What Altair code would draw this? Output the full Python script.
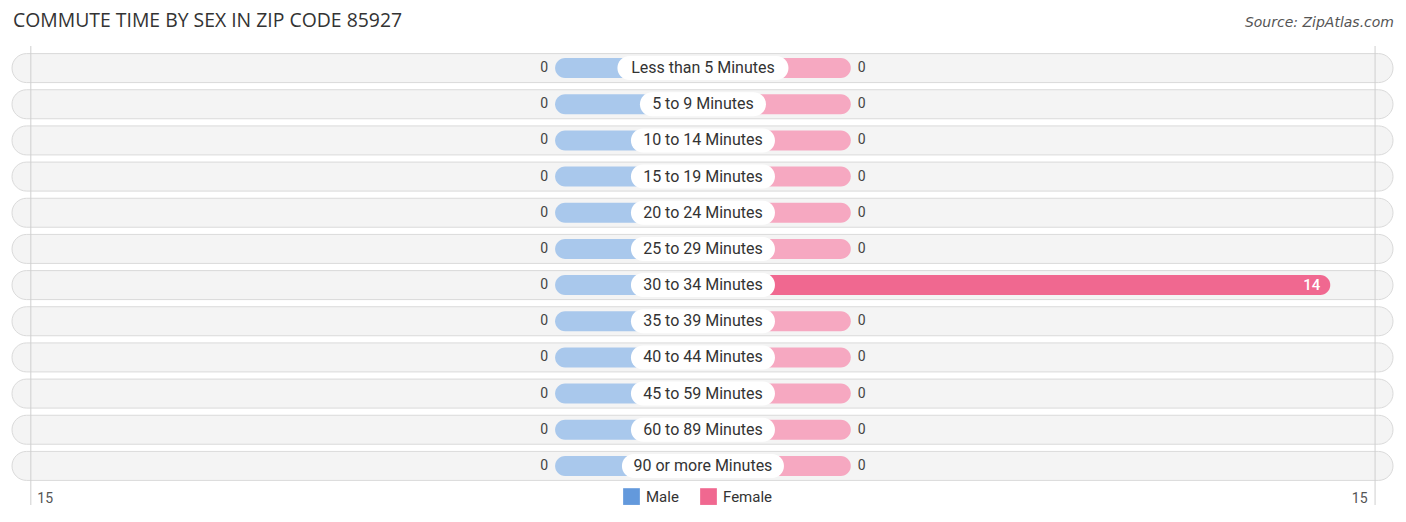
import altair as alt
import pandas as pd

title_text = "COMMUTE TIME BY SEX IN ZIP CODE 85927"
source_text = "Source: ZipAtlas.com"
categories = [
    "Less than 5 Minutes", "5 to 9 Minutes", "10 to 14 Minutes", "15 to 19 Minutes",
    "20 to 24 Minutes", "25 to 29 Minutes", "30 to 34 Minutes", "35 to 39 Minutes",
    "40 to 44 Minutes", "45 to 59 Minutes", "60 to 89 Minutes", "90 or more Minutes",
]
male = [0, 0, 0, 0, 0, 0, 0, 0, 0, 0, 0, 0]
female = [0, 0, 0, 0, 0, 0, 14, 0, 0, 0, 0, 0]
series = ["Male", "Female"]
axis_max = 15

STUB = 3.3          # display length of a zero bar (in axis units)
PX_PER_UNIT = 1344 / 30
W, H = 1381, 434
X_LO, X_HI = -15.42, 15.4

rows = []
for c, m, f in zip(categories, male, female):
    rows.append({"cat": c, "sex": "Male", "value": m,
                 "start": 0, "end": -max(m, STUB),
                 "shade": "Male-full" if m > 0 else "Male-stub",
                 "inside": m >= 5})
    rows.append({"cat": c, "sex": "Female", "value": f,
                 "start": 0, "end": max(f, STUB),
                 "shade": "Female-full" if f > 0 else "Female-stub",
                 "inside": f >= 5})
long_df = pd.DataFrame(rows)

cat_df = pd.DataFrame({"cat": categories})
cat_df["half"] = cat_df["cat"].str.len() * 4.5 / PX_PER_UNIT
cat_df["lo"] = -cat_df["half"]
cat_df["hi"] = cat_df["half"]
cat_df["mid"] = 0.0
cat_df["bg_lo"] = X_LO
cat_df["bg_hi"] = X_HI

xscale = alt.Scale(domain=[X_LO, X_HI], nice=False, zero=False)
yscale = alt.Scale(domain=categories, paddingInner=0, paddingOuter=0)
Y = alt.Y("cat:N", scale=yscale, axis=None, sort=categories)

bg = alt.Chart(cat_df).mark_bar(
    size=29, cornerRadius=14.5, color="#f4f4f4", stroke="#dadada", strokeWidth=1
).encode(
    x=alt.X("bg_lo:Q", scale=xscale, axis=alt.Axis(
        values=[-axis_max, axis_max], labelExpr="abs(datum.value)", title=None,
        domain=False, ticks=False, grid=False, labelFontSize=14, labelColor="#555",
        labelFont="Roboto", labelPadding=7,
        labelAlign={"condition": {"test": "datum.value < 0", "value": "left"}, "value": "right"},
        labelOffset={"condition": {"test": "datum.value < 0", "value": 6}, "value": -8},
    )),
    x2="bg_hi:Q",
    y=Y,
)

grid_df = pd.DataFrame({"g": [-axis_max, axis_max]})
grid = alt.Chart(grid_df).mark_rule(color="#cfcfcf", strokeWidth=1).encode(
    x=alt.X("g:Q", scale=xscale),
    y=alt.value(-4),
    y2=alt.value(H + 21),
)

bars = alt.Chart(long_df).mark_bar(size=20, cornerRadius=10).encode(
    x=alt.X("end:Q", scale=xscale),
    x2="start:Q",
    y=Y,
    color=alt.Color("shade:N", legend=None, scale=alt.Scale(
        domain=["Male-stub", "Male-full", "Female-stub", "Female-full"],
        range=["#a9c8ec", "#6399dc", "#f6a8c1", "#f06890"],
    )),
)

pills = alt.Chart(cat_df).mark_bar(
    size=24, cornerRadius=12, color="white"
).encode(
    x=alt.X("lo:Q", scale=xscale), x2="hi:Q", y=Y,
)

pill_text = alt.Chart(cat_df).mark_text(
    font="Roboto", fontSize=16, color="#333"
).encode(
    x=alt.X("mid:Q", scale=xscale), y=Y, text="cat:N",
)

male_out = alt.Chart(long_df).transform_filter(
    "datum.sex == 'Male' && !datum.inside"
).mark_text(align="right", dx=-7, font="Roboto", fontSize=14, color="#444").encode(
    x=alt.X("end:Q", scale=xscale), y=Y, text="value:Q")

female_out = alt.Chart(long_df).transform_filter(
    "datum.sex == 'Female' && !datum.inside"
).mark_text(align="left", dx=7, font="Roboto", fontSize=14, color="#444").encode(
    x=alt.X("end:Q", scale=xscale), y=Y, text="value:Q")

female_in = alt.Chart(long_df).transform_filter(
    "datum.sex == 'Female' && datum.inside"
).mark_text(align="right", dx=-10, font="Roboto", fontSize=15, color="white",
            fontWeight=500).encode(
    x=alt.X("end:Q", scale=xscale), y=Y, text="value:Q")

legend_df = pd.DataFrame({"sex": series})
legend_layer = alt.Chart(legend_df).mark_square(size=0, opacity=0).encode(
    x=alt.datum(0, scale=xscale),
    color=alt.Color("sex:N", sort=series, title=None, scale=alt.Scale(
        domain=series, range=["#6399dc", "#f06890"]),
        legend=alt.Legend(orient="none", legendX=611, legendY=438, direction="horizontal",
                          symbolType="square", symbolSize=280, symbolOpacity=1,
                          symbolStrokeWidth=0, labelFontSize=15, labelFont="Roboto",
                          labelColor="#333", columnPadding=21, labelOffset=6)),
)

head = cat_df.head(1)
source = alt.Chart(head).mark_text(
    align="right", fontSize=14, fontStyle="italic", color="#555", font="DejaVu Sans"
).encode(x=alt.value(W + 1), y=alt.value(-27), text=alt.value(source_text))

title = alt.Chart(head).mark_text(
    align="left", fontSize=19.4, color="#333", font="Open Sans"
).encode(x=alt.value(1), y=alt.value(-29), text=alt.value(title_text))

chart = alt.layer(
    bg, grid, bars, pills, pill_text, male_out, female_out, female_in, legend_layer,
    source, title
).resolve_scale(color="independent").properties(
    width=W, height=H,
    autosize=alt.AutoSizeParams(type="none"),
    padding={"left": 4, "top": 42, "right": 5, "bottom": 30},
).configure_view(stroke=None)

chart.save("out.html", embed_options={"renderer": "svg", "actions": False})
